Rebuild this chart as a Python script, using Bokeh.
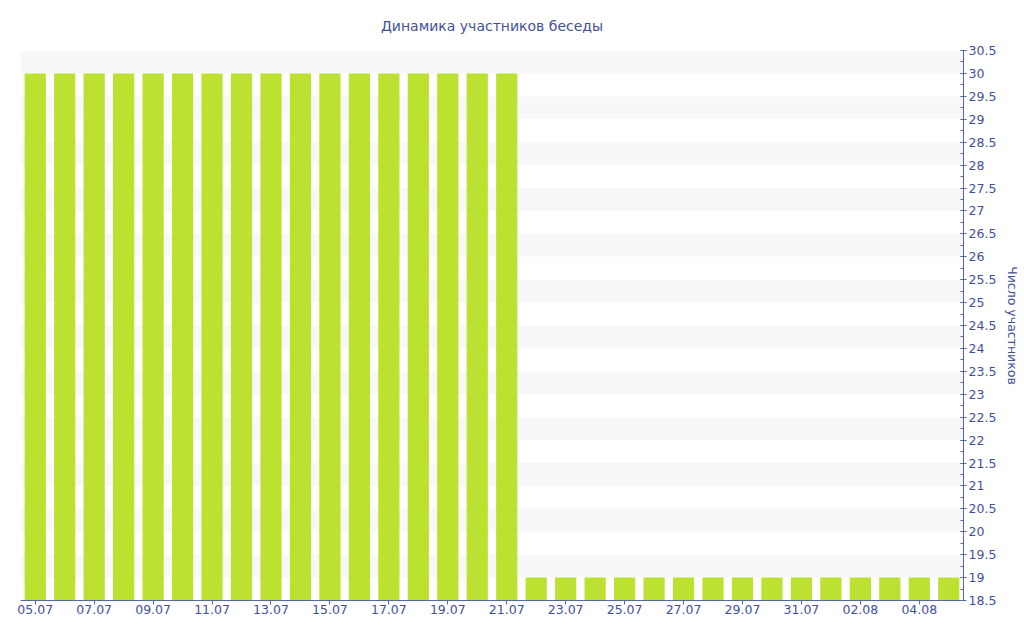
from bokeh.plotting import figure
from bokeh.models import FixedTicker, NumeralTickFormatter, ColumnDataSource
from bokeh.embed import file_html
from bokeh.resources import INLINE

dates = ["05.07", "06.07", "07.07", "08.07", "09.07", "10.07", "11.07", "12.07",
         "13.07", "14.07", "15.07", "16.07", "17.07", "18.07", "19.07", "20.07",
         "21.07", "22.07", "23.07", "24.07", "25.07", "26.07", "27.07", "28.07",
         "29.07", "30.07", "31.07", "01.08", "02.08", "03.08", "04.08", "05.08"]
members = [30] * 17 + [19] * 15

y_ticks = [18.5 + 0.5 * i for i in range(25)]

TEXT = "#3f519b"
AXIS = "#5567a8"
FONT = "DejaVu Sans"

xs = list(range(len(dates)))
src = ColumnDataSource(dict(x=xs, top=members, label=dates))

p = figure(width=1024, height=640, output_backend="svg", toolbar_location=None,
           x_range=(-0.5, len(dates) - 0.5), y_range=(18.5, 30.5),
           y_axis_location="right",
           min_border_left=20, min_border_right=61, min_border_top=50, min_border_bottom=40)

p.vbar(x="x", top="top", bottom=18.5, width=0.72, source=src,
       fill_color="#bde131", line_color=None)

p.title.text = "Динамика участников беседы"
p.title.align = "center"
p.title.vertical_align = "top"
p.title.text_color = TEXT
p.title.text_font = FONT
p.title.text_font_size = "14px"
p.title.text_font_style = "normal"
p.title.standoff = 30

p.outline_line_color = None
p.background_fill_color = "white"

# x axis
p.xaxis.ticker = FixedTicker(ticks=xs[::2])
p.xaxis.major_label_overrides = {i: d for i, d in zip(xs, dates)}
p.xaxis.axis_line_color = AXIS
p.xaxis.major_tick_line_color = AXIS
p.xaxis.major_tick_in = 0
p.xaxis.major_tick_out = 4
p.xaxis.minor_tick_line_color = None
p.xaxis.major_label_text_color = TEXT
p.xaxis.major_label_text_font = FONT
p.xaxis.major_label_text_font_size = "12.5px"
p.xaxis.major_label_standoff = 0

# y axis
p.yaxis.ticker = FixedTicker(ticks=y_ticks, minor_ticks=[18.5 + 0.25 * i for i in range(49)])
p.yaxis.formatter = NumeralTickFormatter(format="0.[0]")
p.yaxis.axis_label = "Число участников"
p.yaxis.axis_label_text_color = TEXT
p.yaxis.axis_label_text_font = FONT
p.yaxis.axis_label_text_font_size = "12.5px"
p.yaxis.axis_label_text_font_style = "normal"
p.yaxis.axis_label_standoff = 6
p.yaxis.axis_line_color = AXIS
p.yaxis.major_tick_line_color = AXIS
p.yaxis.minor_tick_line_color = AXIS
p.yaxis.major_tick_in = 3
p.yaxis.major_tick_out = 3
p.yaxis.minor_tick_in = 3
p.yaxis.minor_tick_out = 0
p.yaxis.major_label_text_color = TEXT
p.yaxis.major_label_text_font = FONT
p.yaxis.major_label_text_font_size = "12.5px"
p.yaxis.major_label_standoff = 2

p.xgrid.visible = False
p.ygrid.ticker = FixedTicker(ticks=[19 + 0.5 * i for i in range(24)])
p.ygrid.grid_line_color = None
p.ygrid.band_fill_color = "#f8f8f8"
p.ygrid.band_fill_alpha = 1.0

open("out.html", "w").write(file_html(p, INLINE))
